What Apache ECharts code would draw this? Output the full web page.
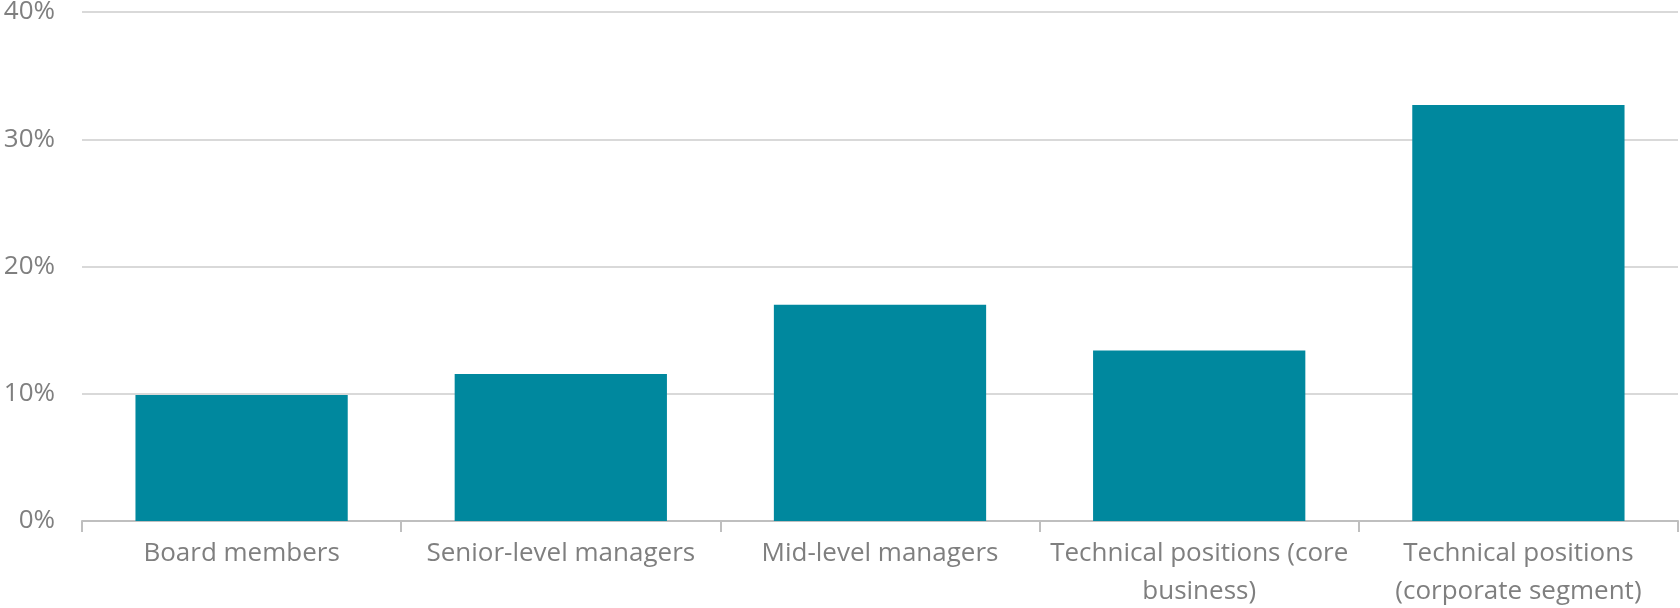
<!DOCTYPE html>
<html>
<head>
<meta charset="utf-8">
<style>
html,body{margin:0;padding:0;background:#fff;}
#chart{width:1680px;height:608px;}
</style>
<script src="https://cdn.jsdelivr.net/npm/echarts@6/dist/echarts.min.js"></script>
</head>
<body>
<div id="chart"></div>
<script>
const categories = ["Board members", "Senior-level managers", "Mid-level managers", "Technical positions (core\nbusiness)", "Technical positions\n(corporate segment)"];
const values = [9.9, 11.55, 17.0, 13.4, 32.7];
const yTicks = [0, 10, 20, 30, 40];

const chart = echarts.init(document.getElementById('chart'), null, {renderer: 'canvas'});
const font = '"Open Sans", "Noto Sans", sans-serif';
chart.setOption({
  animation: false,
  grid: {left: 82, right: 2, top: 12, bottom: 87, containLabel: false, outerBoundsMode: 'none'},
  xAxis: {
    type: 'category',
    data: categories,
    axisLine: {show: true, lineStyle: {color: '#bfbfbf', width: 2}},
    axisTick: {show: true, alignWithLabel: false, length: 11, lineStyle: {color: '#bfbfbf', width: 2}},
    axisLabel: {color: '#7f7f7f', fontFamily: font, fontSize: 26, margin: 14, lineHeight: 38, interval: 0}
  },
  yAxis: {
    type: 'value',
    min: yTicks[0], max: yTicks[yTicks.length - 1], interval: 10,
    axisLine: {show: false},
    axisTick: {show: false},
    splitLine: {lineStyle: {color: '#d9d9d9', width: 2}},
    axisLabel: {color: '#7f7f7f', fontFamily: font, fontSize: 26, margin: 27, formatter: v => v + '%'}
  },
  series: [{
    type: 'bar',
    data: values,
    barWidth: '66.5%',
    itemStyle: {color: '#00889e'}
  }]
});
</script>
</body>
</html>
